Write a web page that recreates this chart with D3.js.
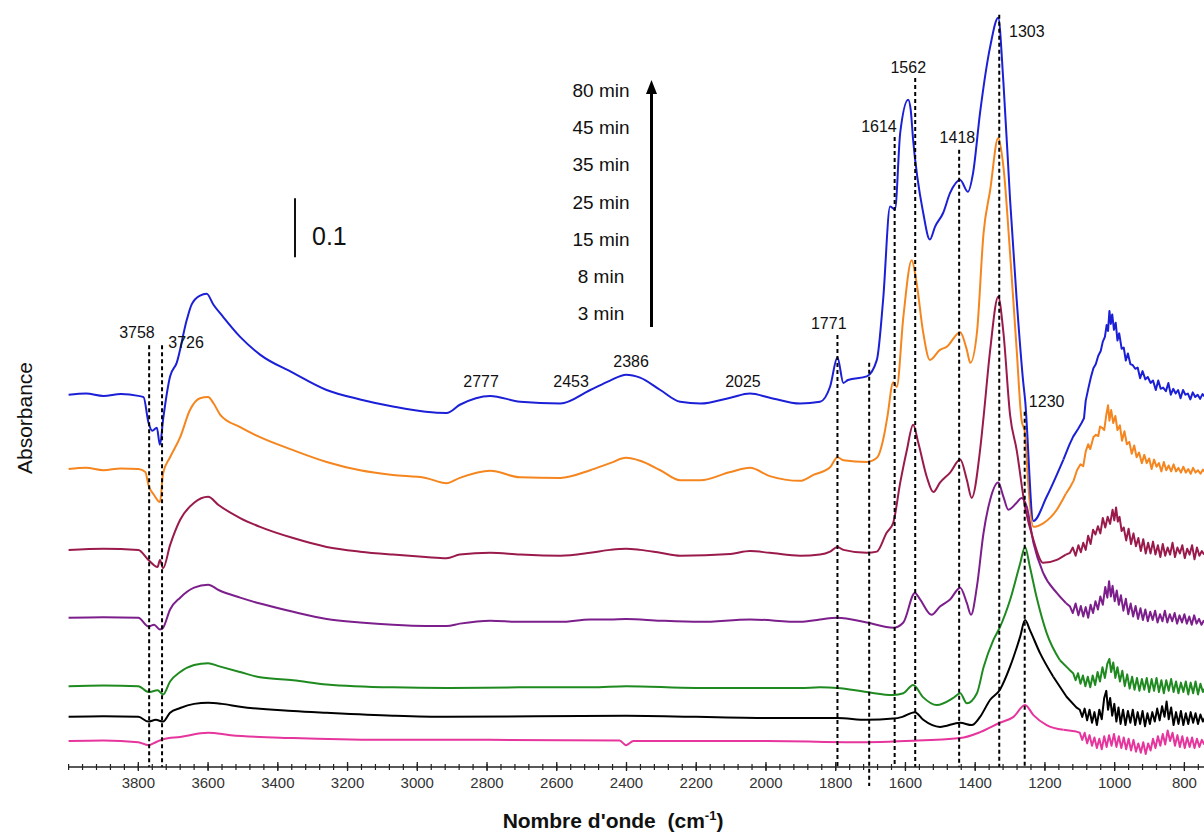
<!DOCTYPE html>
<html>
<head>
<meta charset="utf-8">
<script src="https://cdn.jsdelivr.net/npm/d3@7"></script>
<style>
  body { margin: 0; background: #ffffff; }
  svg { display: block; }
</style>
</head>
<body>
<svg id="chart" width="1204" height="834"></svg>
<script>
// ---------- DATA ----------
const timeLabels = ["80 min", "45 min", "35 min", "25 min", "15 min", "8 min", "3 min"];
const seriesColors = ["#1b1fd6", "#f5861f", "#9a1a4c", "#7c1f8c", "#1f8a1f", "#000000", "#e6359c"];
// vertical offset (absorbance) of each stacked spectrum
const seriesOffsets = [0.631, 0.505, 0.368, 0.253, 0.137, 0.085, 0.044];

const s80 = [[4000,0],[3950,0.002],[3900,-0.002],[3850,0.001],[3800,-0.002],[3785,-0.004],[3771,-0.047],[3760,-0.061],[3747,-0.056],[3738,-0.085],[3729,-0.042],[3709,0.031],[3690,0.054],[3661,0.127],[3647,0.153],[3623,0.168],[3604,0.171],[3585,0.153],[3557,0.132],[3508,0.098],[3451,0.068],[3356,0.037],[3260,0.008],[3164,-0.008],[3070,-0.020],[2976,-0.029],[2916,-0.031],[2878,-0.017],[2791,-0.002],[2705,-0.012],[2590,-0.015],[2504,0.008],[2447,0.024],[2401,0.034],[2361,0.029],[2303,0.008],[2246,-0.012],[2188,-0.015],[2102,-0.005],[2046,0.002],[1989,-0.005],[1902,-0.015],[1845,-0.012],[1816,0.014],[1795,0.063],[1778,0.020],[1765,0.025],[1711,0.031],[1682,0.059],[1664,0.161],[1644,0.319],[1630,0.314],[1615,0.444],[1592,0.500],[1585,0.483],[1578,0.432],[1549,0.308],[1530,0.263],[1515,0.285],[1492,0.308],[1472,0.342],[1443,0.364],[1421,0.344],[1406,0.376],[1386,0.478],[1357,0.590],[1334,0.639],[1319,0.529],[1300,0.331],[1281,0.161],[1262,0.020],[1257,-0.008],[1233,-0.214],[1195,-0.173],[1147,-0.110],[1130,-0.085],[1119,-0.071],[1105,-0.058],[1095,-0.048],[1088,-0.040],[1083,-0.010],[1075,0.012],[1068,0.030],[1061,0.045],[1054,0.052],[1047,0.066],[1040,0.074],[1034,0.090],[1028,0.098],[1023,0.118],[1019,0.108],[1015,0.142],[1011,0.120],[1007,0.136],[1002,0.110],[997,0.122],[992,0.092],[987,0.104],[980,0.078],[974,0.080],[968,0.058],[962,0.070],[955,0.052],[948,0.050],[941,0.044],[934,0.046],[927,0.028],[920,0.040],[912,0.026],[905,0.030],[897,0.020],[890,0.024],[882,0.008],[875,0.024],[868,0.010],[861,0.012],[853,0.006],[846,0.020],[839,0.000],[832,0.010],[825,0.002],[818,0.008],[811,-0.006],[804,0.008],[797,0.000],[790,0.002],[783,-0.008],[776,0.004],[769,-0.004],[762,0.000],[755,-0.007],[748,0.001],[740,-0.004]];

const s45 = [[4000,0],[3950,0.002],[3900,-0.002],[3850,0.001],[3800,0],[3780,-0.005],[3771,-0.027],[3755,-0.044],[3738,-0.056],[3729,-0.007],[3709,0.020],[3680,0.054],[3652,0.100],[3623,0.120],[3600,0.122],[3585,0.112],[3565,0.092],[3508,0.071],[3451,0.054],[3356,0.032],[3260,0.012],[3164,-0.002],[3070,-0.010],[2976,-0.015],[2916,-0.024],[2878,-0.015],[2791,-0.003],[2705,-0.014],[2590,-0.015],[2504,-0.002],[2447,0.010],[2401,0.019],[2361,0.014],[2303,-0.002],[2246,-0.019],[2188,-0.019],[2102,-0.005],[2046,0.002],[1989,-0.012],[1902,-0.020],[1864,-0.010],[1816,0.003],[1795,0.020],[1778,0.015],[1711,0.012],[1682,0.019],[1660,0.061],[1652,0.088],[1635,0.147],[1625,0.139],[1606,0.258],[1582,0.354],[1568,0.315],[1549,0.231],[1530,0.185],[1501,0.202],[1482,0.207],[1443,0.232],[1424,0.202],[1414,0.180],[1395,0.231],[1376,0.400],[1357,0.473],[1334,0.561],[1319,0.512],[1300,0.366],[1281,0.202],[1267,0.083],[1257,0.061],[1248,-0.024],[1233,-0.098],[1205,-0.092],[1166,-0.069],[1140,-0.042],[1128,-0.031],[1118,-0.020],[1108,-0.002],[1098,0.008],[1090,0.005],[1083,0.030],[1076,0.042],[1070,0.034],[1061,0.054],[1054,0.058],[1047,0.056],[1042,0.072],[1036,0.070],[1030,0.066],[1024,0.092],[1019,0.108],[1015,0.082],[1010,0.100],[1004,0.078],[998,0.090],[992,0.066],[985,0.074],[979,0.048],[972,0.064],[965,0.042],[958,0.046],[951,0.026],[944,0.040],[937,0.020],[930,0.028],[922,0.010],[915,0.024],[908,0.010],[901,0.018],[894,0.000],[887,0.016],[880,0.004],[873,0.010],[866,-0.004],[859,0.012],[852,-0.002],[845,0.006],[838,-0.004],[831,0.008],[824,-0.004],[817,0.002],[810,-0.006],[803,0.004],[796,-0.006],[789,0.000],[782,-0.008],[775,0.002],[768,-0.006],[761,-0.002],[754,-0.008],[747,-0.001],[740,-0.006]];

const s35 = [[4000,0],[3900,0.002],[3800,0],[3771,-0.017],[3745,-0.029],[3738,-0.017],[3729,-0.031],[3709,0.008],[3680,0.051],[3640,0.080],[3600,0.090],[3570,0.076],[3508,0.054],[3451,0.039],[3356,0.020],[3260,0.005],[3164,-0.003],[3070,-0.008],[2976,-0.012],[2916,-0.014],[2878,-0.008],[2791,-0.005],[2705,-0.008],[2590,-0.010],[2504,-0.005],[2447,0],[2401,0.002],[2361,0],[2303,-0.005],[2246,-0.010],[2102,-0.007],[2046,-0.002],[1989,-0.005],[1902,-0.010],[1845,-0.008],[1816,-0.003],[1795,0.005],[1778,0],[1711,-0.005],[1682,-0.003],[1654,0.029],[1635,0.046],[1615,0.114],[1596,0.169],[1578,0.212],[1563,0.181],[1539,0.124],[1520,0.098],[1501,0.114],[1472,0.131],[1443,0.153],[1424,0.119],[1410,0.088],[1386,0.169],[1376,0.225],[1357,0.339],[1334,0.429],[1319,0.368],[1300,0.229],[1281,0.169],[1257,0.073],[1233,0.017],[1205,-0.022],[1166,-0.017],[1140,-0.008],[1128,-0.005],[1120,0.004],[1112,-0.010],[1104,0.008],[1097,-0.004],[1090,0.012],[1083,0.000],[1076,0.024],[1069,0.010],[1062,0.034],[1055,0.026],[1048,0.040],[1041,0.028],[1034,0.054],[1027,0.038],[1020,0.056],[1013,0.044],[1006,0.068],[1001,0.050],[996,0.072],[991,0.048],[986,0.056],[980,0.032],[974,0.038],[967,0.016],[960,0.036],[953,0.010],[946,0.028],[939,0.006],[932,0.020],[925,-0.002],[918,0.018],[911,-0.006],[904,0.012],[897,-0.006],[890,0.014],[883,-0.008],[876,0.008],[869,-0.012],[862,0.010],[855,-0.010],[848,0.004],[841,-0.008],[834,0.012],[827,-0.012],[820,0.004],[813,-0.006],[806,0.008],[799,-0.014],[792,0.002],[785,-0.008],[778,0.008],[771,-0.016],[764,0.004],[757,-0.010],[750,-0.002],[743,-0.008]];

const s25 = [[4000,0],[3900,0.001],[3800,0],[3771,-0.015],[3755,-0.012],[3738,-0.020],[3729,-0.017],[3709,0.014],[3680,0.034],[3640,0.051],[3600,0.056],[3570,0.047],[3508,0.034],[3451,0.024],[3356,0.010],[3260,-0.002],[3164,-0.008],[3070,-0.012],[2976,-0.014],[2916,-0.014],[2878,-0.010],[2791,-0.005],[2705,-0.007],[2590,-0.007],[2504,-0.003],[2447,-0.003],[2401,-0.002],[2303,-0.005],[2188,-0.007],[2046,-0.003],[1902,-0.007],[1845,-0.003],[1795,0],[1711,-0.008],[1635,-0.017],[1606,-0.008],[1573,0.042],[1558,0.031],[1525,0.005],[1501,0.019],[1472,0.031],[1443,0.051],[1424,0.025],[1412,0.005],[1395,0.053],[1376,0.144],[1357,0.200],[1334,0.229],[1319,0.205],[1305,0.183],[1281,0.195],[1267,0.203],[1252,0.188],[1233,0.127],[1205,0.076],[1166,0.042],[1140,0.025],[1128,0.019],[1120,0.008],[1112,0.024],[1104,0.004],[1097,0.020],[1090,0.002],[1083,0.018],[1076,0.000],[1069,0.022],[1062,0.008],[1055,0.028],[1048,0.014],[1041,0.036],[1034,0.022],[1027,0.052],[1021,0.034],[1016,0.062],[1011,0.036],[1006,0.054],[1000,0.028],[994,0.046],[988,0.022],[982,0.038],[975,0.012],[968,0.032],[961,0.006],[954,0.024],[947,0.002],[940,0.020],[933,-0.002],[926,0.016],[919,-0.004],[912,0.014],[905,-0.006],[898,0.010],[891,-0.004],[884,0.012],[877,-0.008],[870,0.006],[863,-0.006],[856,0.012],[849,-0.008],[842,0.006],[835,-0.006],[828,0.008],[821,-0.010],[814,0.004],[807,-0.008],[800,0.006],[793,-0.010],[786,0.002],[779,-0.012],[772,0.004],[765,-0.010],[758,-0.002],[751,-0.012],[744,-0.004]];

const s15 = [[4000,0],[3900,0.001],[3800,0],[3771,-0.010],[3745,-0.007],[3729,-0.014],[3709,0.008],[3680,0.024],[3640,0.036],[3600,0.039],[3570,0.034],[3508,0.024],[3451,0.015],[3356,0.010],[3260,0.003],[3070,-0.002],[2916,-0.003],[2700,-0.002],[2500,-0.002],[2401,0],[2200,-0.003],[2000,-0.003],[1902,-0.003],[1845,-0.002],[1795,-0.003],[1711,-0.010],[1635,-0.015],[1606,-0.012],[1578,0.002],[1549,-0.019],[1510,-0.032],[1463,-0.020],[1443,-0.012],[1424,-0.029],[1395,-0.012],[1376,0.032],[1348,0.078],[1329,0.100],[1300,0.146],[1271,0.208],[1257,0.236],[1243,0.202],[1224,0.151],[1195,0.090],[1157,0.044],[1130,0.028],[1119,0.022],[1112,0.010],[1105,0.022],[1098,0.004],[1091,0.018],[1084,0.000],[1077,0.016],[1070,-0.002],[1063,0.018],[1056,0.002],[1049,0.024],[1042,0.008],[1035,0.032],[1028,0.014],[1021,0.038],[1015,0.046],[1010,0.024],[1004,0.040],[998,0.014],[992,0.032],[985,0.008],[978,0.026],[971,0.000],[964,0.020],[957,-0.004],[950,0.016],[943,-0.006],[936,0.014],[929,-0.008],[922,0.012],[915,-0.006],[908,0.014],[901,-0.010],[894,0.012],[887,-0.008],[880,0.014],[873,-0.010],[866,0.010],[859,-0.012],[852,0.010],[845,-0.008],[838,0.012],[831,-0.010],[824,0.008],[817,-0.012],[810,0.006],[803,-0.010],[796,0.008],[789,-0.014],[782,0.006],[775,-0.012],[768,0.008],[761,-0.014],[754,0.004],[747,-0.010],[740,-0.002]];

const s8 = [[4000,0],[3900,0.001],[3800,0],[3771,-0.008],[3750,-0.005],[3729,-0.008],[3709,0.007],[3680,0.015],[3640,0.022],[3600,0.024],[3560,0.022],[3508,0.017],[3356,0.010],[3260,0.007],[3070,0.002],[2916,0],[2401,0.002],[2000,-0.002],[1902,-0.002],[1795,-0.002],[1711,-0.005],[1635,-0.003],[1609,0],[1573,0.008],[1549,-0.005],[1501,-0.017],[1443,-0.010],[1410,-0.014],[1386,0],[1357,0.029],[1329,0.046],[1300,0.085],[1271,0.136],[1257,0.164],[1243,0.147],[1214,0.108],[1176,0.068],[1138,0.034],[1110,0.016],[1100,0.012],[1093,0.000],[1086,0.014],[1079,-0.006],[1072,0.012],[1065,-0.010],[1058,0.008],[1051,-0.014],[1044,0.012],[1037,-0.004],[1030,0.032],[1024,0.044],[1019,0.012],[1013,0.032],[1007,0.002],[1001,0.022],[995,-0.008],[989,0.016],[983,-0.012],[976,0.012],[969,-0.014],[962,0.010],[955,-0.010],[948,0.012],[941,-0.014],[934,0.008],[927,-0.012],[920,0.010],[913,-0.016],[906,0.006],[899,-0.012],[892,0.008],[885,-0.008],[878,0.014],[871,-0.006],[864,0.018],[857,0.000],[851,0.026],[845,-0.004],[838,0.016],[831,-0.014],[824,0.008],[817,-0.012],[810,0.010],[803,-0.014],[796,0.006],[789,-0.012],[782,0.008],[775,-0.010],[768,0.006],[761,-0.012],[754,0.004],[747,-0.008],[740,0.000]];

const s3 = [[4000,0],[3900,0.001],[3800,-0.002],[3771,-0.007],[3750,-0.002],[3729,0.003],[3680,0.007],[3600,0.014],[3535,0.010],[3356,0.005],[3100,0.002],[2800,0.002],[2420,0.001],[2401,-0.007],[2380,0],[2000,0],[1711,-0.002],[1600,0],[1443,0.005],[1386,0.015],[1329,0.031],[1290,0.041],[1257,0.061],[1233,0.044],[1195,0.027],[1147,0.019],[1110,0.016],[1100,0.014],[1093,0.002],[1086,0.014],[1079,-0.004],[1072,0.010],[1065,-0.008],[1058,0.006],[1051,-0.012],[1044,0.004],[1037,-0.014],[1030,0.008],[1023,-0.010],[1016,0.010],[1009,-0.008],[1002,0.012],[995,-0.010],[988,0.008],[981,-0.012],[974,0.006],[967,-0.014],[960,0.004],[953,-0.016],[946,0.002],[939,-0.018],[932,-0.004],[925,-0.020],[918,-0.002],[911,-0.022],[904,-0.004],[897,-0.016],[890,0.004],[883,-0.012],[876,0.008],[869,-0.008],[862,0.012],[855,-0.006],[848,0.018],[841,0.000],[834,0.014],[827,-0.008],[820,0.010],[813,-0.010],[806,0.008],[799,-0.012],[792,0.006],[785,-0.010],[778,0.006],[771,-0.012],[764,0.004],[757,-0.010],[750,0.002],[743,-0.006]];

const spectra = [s80, s45, s35, s25, s15, s8, s3];

// x axis ticks
const majorTicks = [3800, 3600, 3400, 3200, 3000, 2800, 2600, 2400, 2200, 2000, 1800, 1600, 1400, 1200, 1000, 800];

// dashed marker lines: position on the axis, top (absorbance), bottom (absorbance)
const markerPos    = [3769, 3732, 1795, 1704, 1631, 1572, 1446, 1331, 1258];
const markerTop    = [0.715, 0.715, 0.732, 0.685, 1.068, 1.168, 1.046, 1.275, 0.602];
const markerBottom = [0, 0, 0, -0.032, 0, 0, 0, 0, 0];

const peakText  = ["3758", "3726", "2777", "2453", "2386", "2025", "1771", "1614", "1562", "1418", "1303", "1230"];
const peakTextW = [3804, 3663, 2817, 2559, 2387, 2066, 1820, 1676, 1592, 1451, 1252, 1195];
const peakTextA = [0.727, 0.710, 0.644, 0.644, 0.678, 0.644, 0.742, 1.076, 1.176, 1.058, 1.237, 0.610];

const scaleBarValue = 0.1;

// ---------- CHART ----------
const svg = d3.select("#chart");

const x = d3.scaleLinear().domain([4000, 800]).range([68.6, 1184.4]);
const y = d3.scaleLinear().domain([0, 1.3]).range([767, 0]);
const axisY = y(0);

// spectra: smooth part drawn with monotone curve, noisy low-wavenumber part drawn point to point
const smoothLine = d3.line().x(d => x(d[0])).y(d => y(d[1])).curve(d3.curveMonotoneX);
const noisyLine  = d3.line().x(d => x(d[0])).y(d => y(d[1])).curve(d3.curveLinear);
const splitW = 1140;

const gSpec = svg.append("g");
for (let i = spectra.length - 1; i >= 0; i--) {
  const off = seriesOffsets[i];
  const pts = spectra[i].map(p => [p[0], p[1] + off]).sort((a, b) => b[0] - a[0]);
  const upper = pts.filter(p => p[0] >= splitW);
  const lower = pts.filter(p => p[0] <= splitW);
  if (lower.length && upper.length && lower[0][0] !== upper[upper.length - 1][0]) {
    lower.unshift(upper[upper.length - 1]);
  }
  [[upper, smoothLine], [lower, noisyLine]].forEach(([seg, gen]) => {
    gSpec.append("path")
      .attr("d", gen(seg))
      .attr("fill", "none")
      .attr("stroke", seriesColors[i])
      .attr("stroke-width", 2)
      .attr("stroke-linejoin", "round");
  });
}

// dashed marker lines
svg.append("g").selectAll("line")
  .data(markerPos.map((p, i) => ({ p, top: markerTop[i], bot: markerBottom[i] })))
  .join("line")
  .attr("x1", d => x(d.p)).attr("x2", d => x(d.p))
  .attr("y1", d => y(d.top)).attr("y2", d => y(d.bot))
  .attr("stroke", "#000")
  .attr("stroke-width", 2)
  .attr("stroke-dasharray", "4,3");

// peak labels
svg.append("g").selectAll("text")
  .data(peakText.map((t, i) => ({ t, w: peakTextW[i], a: peakTextA[i] })))
  .join("text")
  .attr("x", d => x(d.w)).attr("y", d => y(d.a))
  .attr("text-anchor", "middle")
  .attr("font-family", "Liberation Sans, Arial, sans-serif")
  .attr("font-size", 16)
  .attr("fill", "#111")
  .text(d => d.t);

// x axis
const xMin = 4000, xMax = 740;
const gx = svg.append("g");
gx.append("line")
  .attr("x1", x(xMin)).attr("x2", x(xMax))
  .attr("y1", axisY).attr("y2", axisY)
  .attr("stroke", "#222").attr("stroke-width", 1.3);
const minorTicks = d3.range(xMin, xMax, -40);
gx.selectAll("line.minor").data(minorTicks).join("line")
  .attr("class", "minor")
  .attr("x1", d => x(d)).attr("x2", d => x(d))
  .attr("y1", axisY - 3).attr("y2", axisY + 3)
  .attr("stroke", "#222").attr("stroke-width", 1.2);
gx.selectAll("line.major").data(majorTicks).join("line")
  .attr("class", "major")
  .attr("x1", d => x(d)).attr("x2", d => x(d))
  .attr("y1", axisY - 5).attr("y2", axisY + 4)
  .attr("stroke", "#222").attr("stroke-width", 1.3);
gx.selectAll("text").data(majorTicks).join("text")
  .attr("x", d => x(d)).attr("y", axisY + 21)
  .attr("text-anchor", "middle")
  .attr("font-family", "Liberation Sans Narrow, Arial Narrow, Liberation Sans, sans-serif")
  .attr("font-size", 15)
  .attr("fill", "#333")
  .text(d => d);

// x axis title
const xt = svg.append("text")
  .attr("x", 613).attr("y", 828)
  .attr("text-anchor", "middle")
  .attr("font-family", "Liberation Sans Narrow, Arial Narrow, Liberation Sans, sans-serif")
  .attr("font-weight", "bold")
  .attr("font-size", 21)
  .attr("fill", "#111");
xt.append("tspan").text("Nombre d'onde\u00a0\u00a0(cm");
xt.append("tspan").attr("dy", -8).attr("font-size", 13).text("-1");
xt.append("tspan").attr("dy", 8).text(")");

// y axis title
svg.append("text")
  .attr("transform", "translate(32,418) rotate(-90)")
  .attr("text-anchor", "middle")
  .attr("font-family", "Liberation Sans, Arial, sans-serif")
  .attr("font-size", 21)
  .attr("fill", "#111")
  .text("Absorbance");

// scale bar
const sbBase = 0.864;
svg.append("line")
  .attr("x1", 295).attr("x2", 295)
  .attr("y1", y(sbBase)).attr("y2", y(sbBase + scaleBarValue))
  .attr("stroke", "#111").attr("stroke-width", 2);
svg.append("text")
  .attr("x", 312).attr("y", 245)
  .attr("font-family", "Liberation Sans, Arial, sans-serif")
  .attr("font-size", 25)
  .attr("fill", "#111")
  .text(String(scaleBarValue));

// time legend with arrow
const gLeg = svg.append("g");
gLeg.selectAll("text").data(timeLabels).join("text")
  .attr("x", 601)
  .attr("y", (d, i) => 97 + i * 37.2)
  .attr("text-anchor", "middle")
  .attr("font-family", "Liberation Sans, Arial, sans-serif")
  .attr("font-size", 19)
  .attr("fill", "#111")
  .text(d => d);
gLeg.append("line")
  .attr("x1", 651.5).attr("x2", 651.5)
  .attr("y1", 327).attr("y2", 90)
  .attr("stroke", "#000").attr("stroke-width", 3);
gLeg.append("path")
  .attr("d", "M651.5,80 L646,94 L657,94 Z")
  .attr("fill", "#000");
</script>
</body>
</html>
